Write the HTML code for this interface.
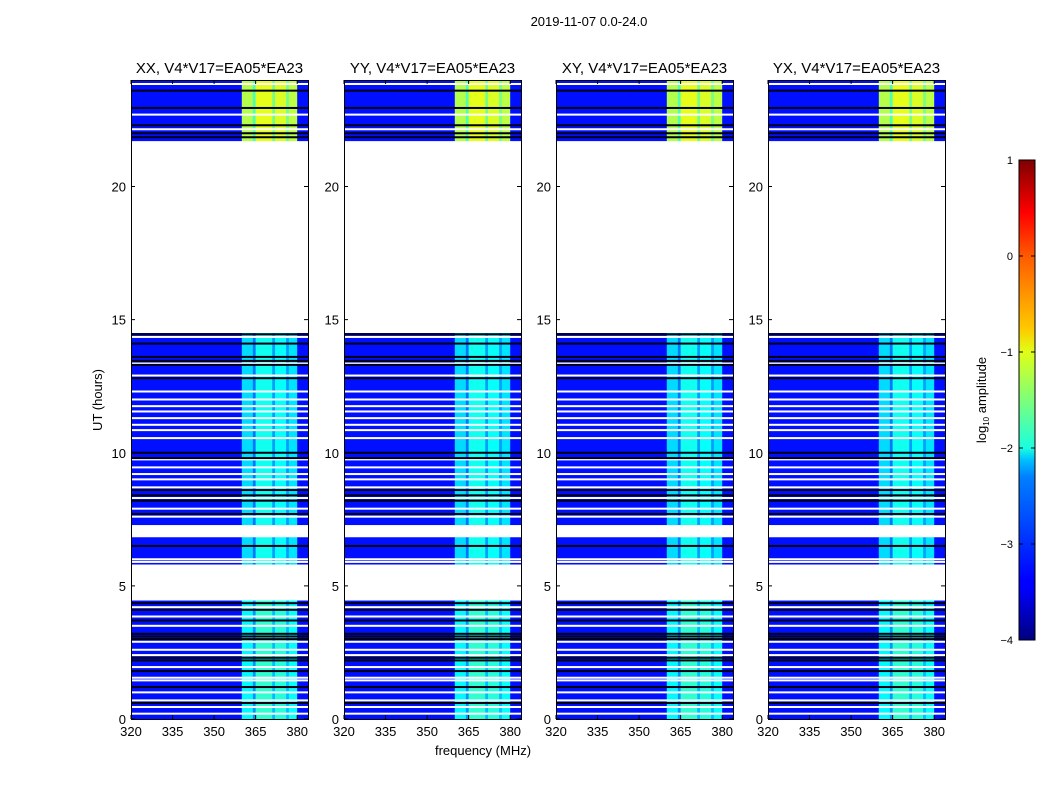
<!DOCTYPE html>
<html><head><meta charset="utf-8"><style>
body{margin:0;background:#fff;width:1050px;height:800px;overflow:hidden;font-family:"Liberation Sans","DejaVu Sans",sans-serif}
</style></head><body>
<svg id="fig" width="1050" height="800" xmlns="http://www.w3.org/2000/svg">
<defs>
<linearGradient id="jet" x1="0" y1="1" x2="0" y2="0">
<stop offset="0" stop-color="#00007f"/><stop offset="0.11" stop-color="#0000ff"/><stop offset="0.125" stop-color="#0000ff"/>
<stop offset="0.34" stop-color="#0080ff"/><stop offset="0.375" stop-color="#00c0ff"/><stop offset="0.4" stop-color="#1affe0"/>
<stop offset="0.5" stop-color="#7dff7a"/><stop offset="0.6" stop-color="#e0ff17"/><stop offset="0.65" stop-color="#ffc800"/>
<stop offset="0.8" stop-color="#ff5a00"/><stop offset="0.89" stop-color="#ff0000"/><stop offset="1" stop-color="#7f0000"/>
</linearGradient>
</defs>
<text x="589" y="26" font-size="13" text-anchor="middle">2019-11-07 0.0-24.0</text>
<text x="0" y="0" font-size="13" text-anchor="middle" transform="translate(102,400) rotate(-90)">UT (hours)</text>
<text x="483" y="755" font-size="13" text-anchor="middle">frequency (MHz)</text>
<g id="panels"></g>
<g>
<rect x="1019" y="160" width="16" height="480" fill="url(#jet)" stroke="#000" stroke-width="1"/>
</g>
<g id="cbticks"></g>
<text x="0" y="0" font-size="13" text-anchor="middle" transform="translate(986,400) rotate(-90)">log<tspan font-size="8" dy="3">10</tspan><tspan dy="-3"> amplitude</tspan></text>
</svg>
<script>
// ---- data ----
const panelTitles = ["XX, V4*V17=EA05*EA23","YY, V4*V17=EA05*EA23","XY, V4*V17=EA05*EA23","YX, V4*V17=EA05*EA23"];
const xTicks = [320,335,350,365,380];
const yTicks = [0,5,10,15,20];
const cbTicks = [1,0,-1,-2,-3,-4];
// frequency segments (MHz) and baseline log10 amplitude
const freqStart = [320,360,364,365,371,372,376,377,380];
const freqEnd   = [360,364,365,371,372,376,377,380,384];
const freqLevel = [-3.3,-2.3,-2.8,-2.05,-2.6,-2.1,-2.6,-2.25,-3.3];
// data time blocks (hours) and RFI boost
const blockStart = [0,5.8,7.28,21.7];
const blockEnd   = [4.45,6.83,14.5,24];
const blockBoost = [0.15,0,0,1.05];
// flagged (white) lines and dropout (black) lines in hours
const whiteLines = [23.85,22.7,22.15,14.35,13.35,12.9,12.3,12.0,11.75,11.55,11.3,11.05,10.85,10.55,9.75,9.45,9.2,9.0,8.7,8.3,7.9,7.6,6.0,5.9,4.2,3.85,3.5,2.9,2.6,2.4,1.95,1.55,1.45,1.0,0.7,0.45,0.2];
const blackLines = [23.6,22.95,22.3,22.0,21.85,14.45,14.1,13.6,13.45,13.3,12.8,10.0,9.8,8.6,8.4,8.2,7.7,6.5,4.35,4.1,3.7,3.2,3.1,3.0,2.3,2.2,1.8,1.2,0.6];
const extraWhite = [[4.45,4.93],[4.97,5.8],[6.83,7.28],[14.5,21.7]];

const panelLeft = [131,344,556,768];
const pW = 177, pTop = 80, pBot = 719;
const fMin = 320, fMax = 383.9, tMin = 0, tMax = 24;
const NS = "http://www.w3.org/2000/svg";
function jet(v){let t=(v+4)/5;t=Math.max(0,Math.min(1,t));
 const c=x=>Math.round(255*Math.max(0,Math.min(1,x)));
 return `rgb(${c(1.5-Math.abs(4*t-3))},${c(1.5-Math.abs(4*t-2))},${c(1.5-Math.abs(4*t-1))})`;}
function mk(tag,attrs,parent){const e=document.createElementNS(NS,tag);for(const k in attrs)e.setAttribute(k,attrs[k]);parent.appendChild(e);return e;}
const root=document.getElementById('panels');
panelLeft.forEach((L,pi)=>{
 const X=f=>L+(f-fMin)/(fMax-fMin)*pW;
 const Y=t=>pBot-(t-tMin)/(tMax-tMin)*(pBot-pTop);
 const g=mk('g',{},root);
 
 
 blockStart.forEach((bs,bi)=>{
  freqStart.forEach((fs,fi)=>{
   const lv=freqLevel[fi]+(fs>=360&&fs<380?blockBoost[bi]:0);
   const r=mk('rect',{x:X(fs),y:Y(blockEnd[bi]),width:X(freqEnd[fi])-X(fs)+0.3,height:Y(bs)-Y(blockEnd[bi]),fill:jet(lv)},g);
   
   
  });
 });
 extraWhite.forEach(w=>{const r=mk('rect',{x:L,y:Y(w[1]),width:pW,height:Y(w[0])-Y(w[1]),fill:'#fff'},g);
  
  });
 whiteLines.forEach(h=>{const r=mk('rect',{x:L,y:Y(h)-1,width:pW,height:2,fill:'#fff'},g);
  
  });
 blackLines.forEach(h=>{const r=mk('rect',{x:L,y:Y(h)-1,width:pW,height:2,fill:'#000010'},g);
  
  });
 const fr=mk('rect',{x:L+0.5,y:pTop+0.5,width:pW,height:pBot-pTop,fill:'none',stroke:'#000','stroke-width':1},g);
 
 
 xTicks.forEach(v=>{const x=X(v);
  mk('line',{x1:x,x2:x,y1:pBot,y2:pBot-4,stroke:'#000'},g);
  mk('line',{x1:x,x2:x,y1:pTop,y2:pTop+4,stroke:'#000'},g);
  const t=mk('text',{x:x,y:pBot+17,'font-size':13,'text-anchor':'middle'},g);t.textContent=v;
  
  });
 yTicks.forEach(v=>{const y=Y(v);
  mk('line',{x1:L,x2:L+4,y1:y,y2:y,stroke:'#000'},g);
  mk('line',{x1:L+pW,x2:L+pW-4,y1:y,y2:y,stroke:'#000'},g);
  const t=mk('text',{x:L-5,y:y+5,'font-size':13,'text-anchor':'end'},g);t.textContent=v;
  
  });
 const tt=mk('text',{x:L+pW/2,y:73,'font-size':15,'text-anchor':'middle'},g);tt.textContent=panelTitles[pi];
 
 
});
const cb=document.getElementById('cbticks');
cbTicks.forEach(v=>{const y=640-(v+4)/5*480;
 mk('line',{x1:1019,x2:1023,y1:y,y2:y,stroke:'#000'},cb);
 mk('line',{x1:1035,x2:1031,y1:y,y2:y,stroke:'#000'},cb);
 const t=mk('text',{x:1013,y:y+4,'font-size':11,'text-anchor':'end'},cb);t.textContent=v<0?'\u2212'+(-v):v;
 
 });
</script>
</body></html>
